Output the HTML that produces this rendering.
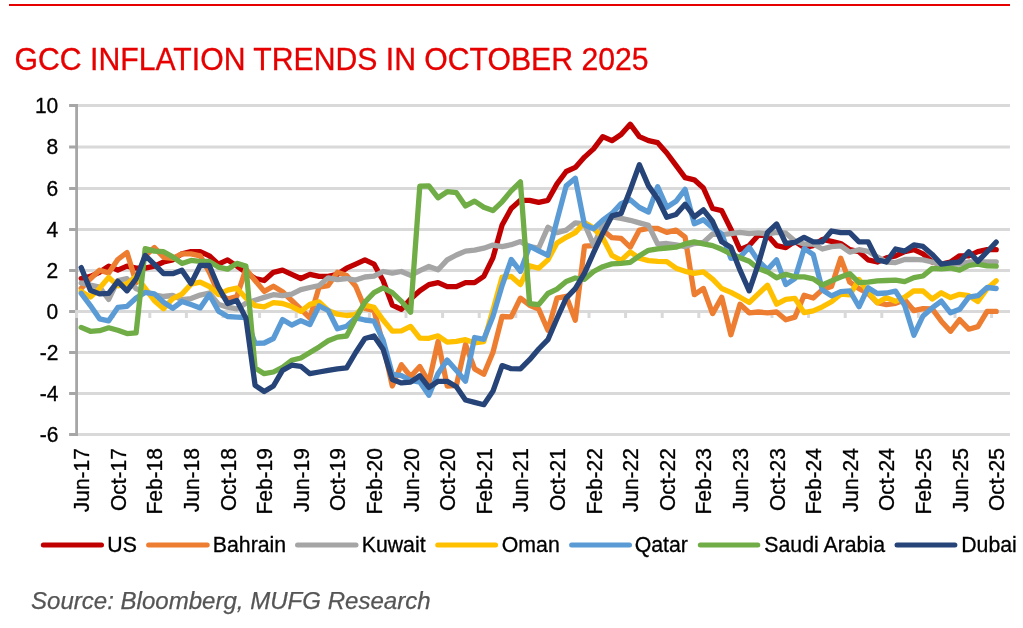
<!DOCTYPE html>
<html lang="en"><head><meta charset="utf-8"><title>GCC Inflation Trends in October 2025</title>
<style>
html,body{margin:0;padding:0;background:#fff;}
body{width:1023px;height:628px;position:relative;overflow:hidden;font-family:"Liberation Sans",Arial,sans-serif;}
.rule{position:absolute;left:9px;top:3.5px;width:1001px;height:2px;background:#e60000;}
svg{position:absolute;left:0;top:0;}
svg text{font-family:"Liberation Sans",Arial,sans-serif;fill:#000;stroke:#000;stroke-width:0.3px;}
svg text.title{font-size:30.19px;fill:#e60000;stroke:#e60000;stroke-width:0.3px;letter-spacing:0px;}
svg text.src{font-size:24.06px;font-style:italic;fill:#555555;stroke:#555555;stroke-width:0.25px;}
.ax{font-size:21.0px;}
.lg{font-size:21.3px;}
</style></head><body>
<div class="rule"></div>
<svg width="1023" height="628" viewBox="0 0 1023 628">
<line x1="76.6" y1="434.50" x2="1010" y2="434.50" stroke="#d9d9d9" stroke-width="3"/>
<line x1="76.6" y1="393.50" x2="1010" y2="393.50" stroke="#d9d9d9" stroke-width="3"/>
<line x1="76.6" y1="352.50" x2="1010" y2="352.50" stroke="#d9d9d9" stroke-width="3"/>
<line x1="76.6" y1="270.50" x2="1010" y2="270.50" stroke="#d9d9d9" stroke-width="3"/>
<line x1="76.6" y1="229.50" x2="1010" y2="229.50" stroke="#d9d9d9" stroke-width="3"/>
<line x1="76.6" y1="188.50" x2="1010" y2="188.50" stroke="#d9d9d9" stroke-width="3"/>
<line x1="76.6" y1="147.00" x2="1010" y2="147.00" stroke="#d9d9d9" stroke-width="3"/>
<line x1="76.6" y1="105.50" x2="1010" y2="105.50" stroke="#d9d9d9" stroke-width="3"/>
<line x1="76.6" y1="104.00" x2="76.6" y2="436.00" stroke="#a6a6a6" stroke-width="2.8"/>
<path d="M69.10 434.50H76.6 M69.10 393.50H76.6 M69.10 352.50H76.6 M69.10 311.50H76.6 M69.10 270.50H76.6 M69.10 229.50H76.6 M69.10 188.50H76.6 M69.10 147.00H76.6 M69.10 105.50H76.6" stroke="#a6a6a6" stroke-width="2.8" fill="none"/>
<line x1="75.20" y1="311.50" x2="1010" y2="311.50" stroke="#d9d9d9" stroke-width="3"/>
<path d="M76.60 311.50v6.5 M113.20 311.50v6.5 M149.80 311.50v6.5 M186.40 311.50v6.5 M223.00 311.50v6.5 M259.60 311.50v6.5 M296.20 311.50v6.5 M332.80 311.50v6.5 M369.40 311.50v6.5 M406.00 311.50v6.5 M442.60 311.50v6.5 M479.20 311.50v6.5 M515.80 311.50v6.5 M552.40 311.50v6.5 M589.00 311.50v6.5 M625.60 311.50v6.5 M662.20 311.50v6.5 M698.80 311.50v6.5 M735.40 311.50v6.5 M772.00 311.50v6.5 M808.60 311.50v6.5 M845.20 311.50v6.5 M881.80 311.50v6.5 M918.40 311.50v6.5 M955.00 311.50v6.5 M991.60 311.50v6.5" stroke="#d9d9d9" stroke-width="3" fill="none"/>
<polyline points="81.2,278.5 90.4,276.4 99.5,272.3 108.7,266.1 117.8,270.2 127.0,266.1 136.1,268.2 145.2,268.2 154.4,266.1 163.6,262.0 172.7,259.9 181.9,253.8 191.0,251.7 200.2,251.7 209.3,255.8 218.4,264.1 227.6,259.9 236.8,266.1 245.9,272.3 255.1,278.5 264.2,280.5 273.4,272.3 282.5,270.2 291.7,274.3 300.8,278.5 309.9,274.3 319.1,276.4 328.2,276.4 337.4,274.3 346.6,268.2 355.7,264.1 364.9,259.9 374.0,264.1 383.1,280.5 392.3,305.2 401.4,309.3 410.6,299.0 419.8,290.8 428.9,284.6 438.1,282.6 447.2,286.7 456.4,286.7 465.5,282.6 474.6,282.6 483.8,276.4 492.9,257.9 502.1,225.0 511.2,208.5 520.4,200.3 529.6,200.3 538.7,202.4 547.9,200.3 557.0,183.9 566.2,171.5 575.3,167.4 584.5,157.1 593.6,148.9 602.8,136.6 611.9,140.7 621.1,134.5 630.2,124.2 639.4,136.6 648.5,140.7 657.7,142.7 666.8,153.0 676.0,165.4 685.1,177.7 694.3,179.8 703.4,188.0 712.6,208.5 721.7,210.6 730.9,229.1 740.0,249.7 749.2,245.6 758.3,235.3 767.5,235.3 776.6,245.6 785.8,247.6 794.9,241.4 804.1,247.6 813.2,245.6 822.4,239.4 831.5,241.4 840.7,243.5 849.8,249.7 859.0,251.7 868.1,259.9 877.3,262.0 886.4,257.9 895.6,255.8 904.7,251.7 913.9,249.7 923.0,253.8 932.2,262.0 941.3,264.1 950.5,262.0 959.6,255.8 968.8,255.8 977.9,251.7 987.1,249.7 996.2,249.7" fill="none" stroke="#c00000" stroke-width="5.3" stroke-linejoin="round" stroke-linecap="round"/>
<polyline points="81.2,288.3 90.4,278.7 99.5,270.2 108.7,272.9 117.8,259.5 127.0,252.5 136.1,282.6 145.2,255.8 154.4,247.6 163.6,257.3 172.7,258.3 181.9,253.8 191.0,253.8 200.2,255.8 209.3,272.3 218.4,293.3 227.6,299.0 236.8,296.5 245.9,269.2 255.1,280.5 264.2,291.4 273.4,286.3 282.5,291.8 291.7,300.5 300.8,309.1 309.9,318.1 319.1,287.1 328.2,285.6 337.4,272.3 346.6,275.4 355.7,286.3 364.9,308.3 374.0,310.5 383.1,344.2 392.3,386.0 401.4,364.8 410.6,376.5 419.8,366.5 428.9,382.1 438.1,341.4 447.2,386.0 456.4,385.4 465.5,344.5 474.6,368.9 483.8,374.3 492.9,352.5 502.1,316.5 511.2,316.9 520.4,298.2 529.6,305.2 538.7,309.1 547.9,330.3 557.0,298.2 566.2,296.3 575.3,320.2 584.5,246.2 593.6,245.6 602.8,230.1 611.9,237.7 621.1,238.4 630.2,247.2 639.4,230.1 648.5,228.5 657.7,228.5 666.8,232.4 676.0,230.1 685.1,237.1 694.3,294.7 703.4,288.5 712.6,313.6 721.7,297.2 730.9,334.8 740.0,304.2 749.2,312.8 758.3,312.0 767.5,312.8 776.6,312.0 785.8,319.8 794.9,317.1 804.1,295.3 813.2,298.0 822.4,289.6 831.5,286.5 840.7,258.3 849.8,282.2 859.0,288.7 868.1,293.3 877.3,302.7 886.4,304.6 895.6,303.3 904.7,299.8 913.9,310.7 923.0,308.7 932.2,308.9 941.3,321.2 950.5,331.3 959.6,319.6 968.8,329.2 977.9,326.6 987.1,311.4 996.2,311.4" fill="none" stroke="#ed7d31" stroke-width="5.3" stroke-linejoin="round" stroke-linecap="round"/>
<polyline points="81.2,283.0 90.4,285.2 99.5,287.1 108.7,299.4 117.8,280.5 127.0,278.7 136.1,288.7 145.2,291.8 154.4,294.9 163.6,296.5 172.7,295.5 181.9,299.6 191.0,298.6 200.2,295.1 209.3,293.0 218.4,304.2 227.6,307.2 236.8,308.9 245.9,303.3 255.1,300.2 264.2,297.4 273.4,294.7 282.5,295.7 291.7,294.1 300.8,289.6 309.9,287.5 319.1,285.6 328.2,277.8 337.4,279.7 346.6,278.5 355.7,280.1 364.9,277.0 374.0,276.2 383.1,271.5 392.3,273.1 401.4,271.5 410.6,275.4 419.8,270.6 428.9,266.5 438.1,269.8 447.2,259.9 456.4,255.0 465.5,251.1 474.6,250.1 483.8,248.2 492.9,245.1 502.1,246.6 511.2,244.7 520.4,241.6 529.6,246.6 538.7,248.0 547.9,227.2 557.0,232.6 566.2,230.1 575.3,222.9 584.5,224.0 593.6,245.1 602.8,225.0 611.9,216.8 621.1,218.4 630.2,220.3 639.4,222.9 648.5,225.4 657.7,244.1 666.8,243.5 676.0,244.9 685.1,246.6 694.3,243.5 703.4,242.5 712.6,234.0 721.7,234.7 730.9,233.6 740.0,232.4 749.2,233.6 758.3,232.8 767.5,234.0 776.6,232.4 785.8,233.2 794.9,241.0 804.1,244.1 813.2,243.9 822.4,249.0 831.5,246.6 840.7,245.8 849.8,252.1 859.0,249.7 868.1,251.3 877.3,256.9 886.4,262.0 895.6,262.6 904.7,259.5 913.9,259.3 923.0,259.9 932.2,262.0 941.3,264.5 950.5,264.1 959.6,264.1 968.8,262.0 977.9,261.8 987.1,261.8 996.2,261.8" fill="none" stroke="#a5a5a5" stroke-width="5.3" stroke-linejoin="round" stroke-linecap="round"/>
<polyline points="81.2,291.4 90.4,297.0 99.5,288.3 108.7,277.4 117.8,285.9 127.0,283.8 136.1,276.4 145.2,288.3 154.4,300.7 163.6,308.7 172.7,298.6 181.9,294.1 191.0,284.2 200.2,282.2 209.3,286.5 218.4,294.5 227.6,290.2 236.8,288.1 245.9,298.0 255.1,305.6 264.2,306.8 273.4,302.7 282.5,303.5 291.7,306.6 300.8,311.4 309.9,304.4 319.1,301.9 328.2,310.5 337.4,314.2 346.6,315.5 355.7,314.6 364.9,305.2 374.0,307.4 383.1,320.0 392.3,331.1 401.4,330.9 410.6,326.4 419.8,338.1 428.9,338.3 438.1,335.8 447.2,342.2 456.4,341.4 465.5,339.7 474.6,342.8 483.8,341.6 492.9,310.3 502.1,277.2 511.2,276.4 520.4,284.6 529.6,265.7 538.7,268.2 547.9,259.9 557.0,242.9 566.2,237.3 575.3,232.6 584.5,222.5 593.6,228.1 602.8,238.1 611.9,255.4 621.1,260.4 630.2,251.9 639.4,258.3 648.5,260.6 657.7,261.4 666.8,261.6 676.0,268.2 685.1,271.3 694.3,273.3 703.4,271.9 712.6,279.1 721.7,288.5 730.9,292.4 740.0,297.2 749.2,302.5 758.3,293.9 767.5,285.2 776.6,304.2 785.8,299.4 794.9,298.4 804.1,312.6 813.2,310.9 822.4,306.8 831.5,301.7 840.7,294.1 849.8,294.9 859.0,279.5 868.1,291.8 877.3,302.7 886.4,297.6 895.6,301.3 904.7,297.2 913.9,290.8 923.0,291.0 932.2,299.0 941.3,292.8 950.5,297.6 959.6,294.3 968.8,295.7 977.9,301.5 987.1,288.7 996.2,280.7" fill="none" stroke="#ffc000" stroke-width="5.3" stroke-linejoin="round" stroke-linecap="round"/>
<polyline points="81.2,293.3 90.4,305.6 99.5,318.8 108.7,320.8 117.8,307.4 127.0,306.4 136.1,298.0 145.2,292.4 154.4,293.9 163.6,302.3 172.7,308.3 181.9,301.5 191.0,304.6 200.2,307.9 209.3,294.5 218.4,311.1 227.6,316.5 236.8,317.1 245.9,317.5 255.1,343.4 264.2,343.0 273.4,338.5 282.5,319.6 291.7,325.1 300.8,320.6 309.9,324.5 319.1,305.8 328.2,310.5 337.4,328.8 346.6,326.2 355.7,317.9 364.9,320.0 374.0,321.2 383.1,340.1 392.3,374.3 401.4,375.7 410.6,380.4 419.8,382.1 428.9,395.2 438.1,373.4 447.2,360.1 456.4,370.4 465.5,381.3 474.6,337.5 483.8,339.3 492.9,316.5 502.1,285.6 511.2,259.5 520.4,271.3 529.6,246.2 538.7,250.9 547.9,255.4 557.0,220.3 566.2,185.9 575.3,178.3 584.5,225.0 593.6,228.7 602.8,220.1 611.9,213.5 621.1,203.6 630.2,199.7 639.4,207.5 648.5,212.0 657.7,186.7 666.8,207.3 676.0,201.3 685.1,189.4 694.3,223.8 703.4,219.8 712.6,227.7 721.7,234.0 730.9,258.3 740.0,257.1 749.2,247.2 758.3,260.8 767.5,269.6 776.6,259.9 785.8,284.6 794.9,278.5 804.1,248.6 813.2,254.4 822.4,290.0 831.5,295.9 840.7,291.6 849.8,290.8 859.0,306.8 868.1,287.7 877.3,293.5 886.4,293.0 895.6,291.2 904.7,305.4 913.9,335.2 923.0,315.9 932.2,307.9 941.3,301.1 950.5,312.8 959.6,309.3 968.8,297.2 977.9,295.7 987.1,287.5 996.2,288.5" fill="none" stroke="#5b9bd5" stroke-width="5.3" stroke-linejoin="round" stroke-linecap="round"/>
<polyline points="81.2,327.4 90.4,331.3 99.5,330.7 108.7,327.8 117.8,330.3 127.0,333.6 136.1,332.9 145.2,248.6 154.4,251.1 163.6,251.7 172.7,256.9 181.9,263.4 191.0,260.4 200.2,261.4 209.3,261.4 218.4,267.1 227.6,269.2 236.8,263.4 245.9,266.1 255.1,368.1 264.2,373.7 273.4,372.0 282.5,367.3 291.7,360.3 300.8,358.0 309.9,352.5 319.1,346.9 328.2,340.8 337.4,337.1 346.6,336.0 355.7,318.5 364.9,302.1 374.0,292.6 383.1,287.9 392.3,292.6 401.4,301.3 410.6,312.2 419.8,186.1 428.9,185.9 438.1,197.8 447.2,191.7 456.4,192.7 465.5,205.9 474.6,201.1 483.8,207.3 492.9,210.6 502.1,201.8 511.2,190.9 520.4,181.8 529.6,303.7 538.7,304.6 547.9,293.5 557.0,289.1 566.2,281.5 575.3,278.0 584.5,279.3 593.6,271.5 602.8,266.7 611.9,263.9 621.1,263.4 630.2,262.4 639.4,255.8 648.5,250.3 657.7,248.8 666.8,248.0 676.0,247.2 685.1,243.9 694.3,241.8 703.4,243.9 712.6,245.6 721.7,249.3 730.9,253.8 740.0,257.7 749.2,261.2 758.3,268.6 767.5,271.9 776.6,277.8 785.8,274.3 794.9,276.8 804.1,276.8 813.2,278.9 822.4,285.0 831.5,280.9 840.7,277.0 849.8,273.7 859.0,282.6 868.1,282.2 877.3,280.9 886.4,280.5 895.6,280.1 904.7,281.7 913.9,277.6 923.0,276.0 932.2,268.4 941.3,268.8 950.5,268.0 959.6,270.2 968.8,265.5 977.9,264.1 987.1,265.9 996.2,266.1" fill="none" stroke="#70ad47" stroke-width="5.3" stroke-linejoin="round" stroke-linecap="round"/>
<polyline points="81.2,267.6 90.4,290.2 99.5,293.9 108.7,293.3 117.8,281.3 127.0,290.8 136.1,278.9 145.2,255.4 154.4,264.3 163.6,273.7 172.7,273.7 181.9,270.2 191.0,283.6 200.2,265.3 209.3,265.5 218.4,287.1 227.6,303.5 236.8,300.5 245.9,318.1 255.1,385.4 264.2,391.5 273.4,386.0 282.5,370.4 291.7,365.2 300.8,366.3 309.9,373.7 319.1,372.0 328.2,370.4 337.4,368.9 346.6,367.9 355.7,352.5 364.9,338.5 374.0,336.0 383.1,349.2 392.3,379.6 401.4,382.9 410.6,382.1 419.8,375.7 428.9,387.4 438.1,381.3 447.2,381.3 456.4,386.8 465.5,400.0 474.6,402.4 483.8,404.7 492.9,391.3 502.1,365.6 511.2,368.7 520.4,368.9 529.6,359.7 538.7,349.0 547.9,339.7 557.0,318.5 566.2,298.2 575.3,288.7 584.5,273.1 593.6,252.7 602.8,233.2 611.9,215.9 621.1,213.5 630.2,190.0 639.4,164.7 648.5,185.9 657.7,198.9 666.8,217.2 676.0,214.5 685.1,204.2 694.3,216.8 703.4,209.8 712.6,221.5 721.7,241.8 730.9,247.2 740.0,270.2 749.2,290.8 758.3,264.1 767.5,232.4 776.6,224.0 785.8,243.3 794.9,242.5 804.1,237.3 813.2,241.8 822.4,241.8 831.5,231.0 840.7,232.6 849.8,232.6 859.0,241.8 868.1,241.8 877.3,259.9 886.4,262.0 895.6,249.0 904.7,251.1 913.9,244.9 923.0,246.4 932.2,254.4 941.3,264.1 950.5,262.8 959.6,262.0 968.8,251.7 977.9,261.4 987.1,251.7 996.2,242.1" fill="none" stroke="#264478" stroke-width="5.3" stroke-linejoin="round" stroke-linecap="round"/>
<text transform="translate(58.3,441.90) scale(1,1.03)" text-anchor="end" class="ax">-6</text>
<text transform="translate(58.3,400.90) scale(1,1.03)" text-anchor="end" class="ax">-4</text>
<text transform="translate(58.3,359.90) scale(1,1.03)" text-anchor="end" class="ax">-2</text>
<text transform="translate(58.3,318.90) scale(1,1.03)" text-anchor="end" class="ax">0</text>
<text transform="translate(58.3,277.90) scale(1,1.03)" text-anchor="end" class="ax">2</text>
<text transform="translate(58.3,236.90) scale(1,1.03)" text-anchor="end" class="ax">4</text>
<text transform="translate(58.3,195.90) scale(1,1.03)" text-anchor="end" class="ax">6</text>
<text transform="translate(58.3,154.40) scale(1,1.03)" text-anchor="end" class="ax">8</text>
<text transform="translate(58.3,112.90) scale(1,1.03)" text-anchor="end" class="ax">10</text>
<text transform="translate(89.20,448.1) rotate(-90) scale(1,1.04)" text-anchor="end" class="ax">Jun-17</text>
<text transform="translate(125.80,448.1) rotate(-90) scale(1,1.04)" text-anchor="end" class="ax">Oct-17</text>
<text transform="translate(162.40,448.1) rotate(-90) scale(1,1.04)" text-anchor="end" class="ax">Feb-18</text>
<text transform="translate(199.00,448.1) rotate(-90) scale(1,1.04)" text-anchor="end" class="ax">Jun-18</text>
<text transform="translate(235.60,448.1) rotate(-90) scale(1,1.04)" text-anchor="end" class="ax">Oct-18</text>
<text transform="translate(272.20,448.1) rotate(-90) scale(1,1.04)" text-anchor="end" class="ax">Feb-19</text>
<text transform="translate(308.80,448.1) rotate(-90) scale(1,1.04)" text-anchor="end" class="ax">Jun-19</text>
<text transform="translate(345.40,448.1) rotate(-90) scale(1,1.04)" text-anchor="end" class="ax">Oct-19</text>
<text transform="translate(382.00,448.1) rotate(-90) scale(1,1.04)" text-anchor="end" class="ax">Feb-20</text>
<text transform="translate(418.60,448.1) rotate(-90) scale(1,1.04)" text-anchor="end" class="ax">Jun-20</text>
<text transform="translate(455.20,448.1) rotate(-90) scale(1,1.04)" text-anchor="end" class="ax">Oct-20</text>
<text transform="translate(491.80,448.1) rotate(-90) scale(1,1.04)" text-anchor="end" class="ax">Feb-21</text>
<text transform="translate(528.40,448.1) rotate(-90) scale(1,1.04)" text-anchor="end" class="ax">Jun-21</text>
<text transform="translate(565.00,448.1) rotate(-90) scale(1,1.04)" text-anchor="end" class="ax">Oct-21</text>
<text transform="translate(601.60,448.1) rotate(-90) scale(1,1.04)" text-anchor="end" class="ax">Feb-22</text>
<text transform="translate(638.20,448.1) rotate(-90) scale(1,1.04)" text-anchor="end" class="ax">Jun-22</text>
<text transform="translate(674.80,448.1) rotate(-90) scale(1,1.04)" text-anchor="end" class="ax">Oct-22</text>
<text transform="translate(711.40,448.1) rotate(-90) scale(1,1.04)" text-anchor="end" class="ax">Feb-23</text>
<text transform="translate(748.00,448.1) rotate(-90) scale(1,1.04)" text-anchor="end" class="ax">Jun-23</text>
<text transform="translate(784.60,448.1) rotate(-90) scale(1,1.04)" text-anchor="end" class="ax">Oct-23</text>
<text transform="translate(821.20,448.1) rotate(-90) scale(1,1.04)" text-anchor="end" class="ax">Feb-24</text>
<text transform="translate(857.80,448.1) rotate(-90) scale(1,1.04)" text-anchor="end" class="ax">Jun-24</text>
<text transform="translate(894.40,448.1) rotate(-90) scale(1,1.04)" text-anchor="end" class="ax">Oct-24</text>
<text transform="translate(931.00,448.1) rotate(-90) scale(1,1.04)" text-anchor="end" class="ax">Feb-25</text>
<text transform="translate(967.60,448.1) rotate(-90) scale(1,1.04)" text-anchor="end" class="ax">Jun-25</text>
<text transform="translate(1004.20,448.1) rotate(-90) scale(1,1.04)" text-anchor="end" class="ax">Oct-25</text>
<line x1="43.3" y1="544.9" x2="101.5" y2="544.9" stroke="#c00000" stroke-width="5.0" stroke-linecap="round"/>
<text transform="translate(107.3,551.7) scale(1,1.025)" class="lg">US</text>
<line x1="148.6" y1="544.9" x2="207.2" y2="544.9" stroke="#ed7d31" stroke-width="5.0" stroke-linecap="round"/>
<text transform="translate(212.8,551.7) scale(1,1.025)" class="lg">Bahrain</text>
<line x1="297.5" y1="544.9" x2="356" y2="544.9" stroke="#a5a5a5" stroke-width="5.0" stroke-linecap="round"/>
<text transform="translate(361.7,551.7) scale(1,1.025)" class="lg">Kuwait</text>
<line x1="437.7" y1="544.9" x2="495.6" y2="544.9" stroke="#ffc000" stroke-width="5.0" stroke-linecap="round"/>
<text transform="translate(501.8,551.7) scale(1,1.025)" class="lg">Oman</text>
<line x1="571.6" y1="544.9" x2="629.5" y2="544.9" stroke="#5b9bd5" stroke-width="5.0" stroke-linecap="round"/>
<text transform="translate(634.7,551.7) scale(1,1.025)" class="lg">Qatar</text>
<line x1="700.3" y1="544.9" x2="757.8" y2="544.9" stroke="#70ad47" stroke-width="5.0" stroke-linecap="round"/>
<text transform="translate(764.3,551.7) scale(1,1.025)" class="lg">Saudi Arabia</text>
<line x1="897" y1="544.9" x2="954.9" y2="544.9" stroke="#264478" stroke-width="5.0" stroke-linecap="round"/>
<text transform="translate(961.2,551.7) scale(1,1.025)" class="lg">Dubai</text>
<text class="title" transform="translate(14.6,69.7) scale(1,1.022)">GCC INFLATION TRENDS IN OCTOBER 2025</text>
<text class="src" x="31.0" y="608.6">Source: Bloomberg, MUFG Research</text>
</svg>
</body></html>
